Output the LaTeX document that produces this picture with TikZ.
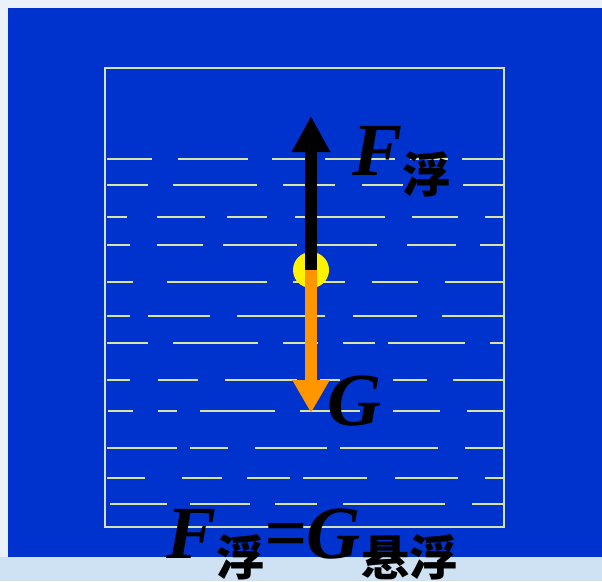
\documentclass[tikz,border=0pt]{standalone}
\usepackage{fontspec}
\newfontfamily\forcefont{Liberation Serif}
\newfontfamily\cjk{Noto Sans CJK SC}
\usetikzlibrary{arrows.meta}

\definecolor{pagebg}{RGB}{234,241,249}
\definecolor{stripbg}{RGB}{207,226,243}
\definecolor{waterblue}{RGB}{0,50,206}
\definecolor{tankline}{RGB}{210,225,180}
\definecolor{rippleline}{RGB}{215,228,165}
\definecolor{forceorange}{RGB}{255,150,0}

\newcommand{\subcn}[1]{\raisebox{-17pt}{\cjk\bfseries\fontsize{48}{48}\selectfont #1}}

\begin{document}
\begin{tikzpicture}[x=1pt, y=-1pt,
  tank/.style={draw=tankline, line width=1.8pt},
  ripple/.style={draw=rippleline, line width=2.1pt},
  ball/.style={circle, fill=yellow, minimum size=36pt, inner sep=0pt},
  upforce/.style={line width=12pt, draw=black, -{Triangle[length=36pt,width=36pt]}},
  downforce/.style={line width=12pt, draw=forceorange, -{Triangle[length=33pt,width=35pt]}},
  sym/.style={inner sep=0pt, anchor=base west,
    font=\forcefont\bfseries\itshape\fontsize{75}{75}\selectfont}
]
\useasboundingbox (0,0) rectangle (602,581);

% ================= Background =================
\fill[pagebg] (0,0) rectangle (602,581);
\fill[waterblue] (8,8) rectangle (602,557);
\fill[stripbg] (0,557) rectangle (602,581);

% ================= Tank and water =================
\draw[tank] (105,68) rectangle (504,527);
\foreach \y/\segs in {
  159/{107/152,178/248,272/308,325/395,410/448,462/503},
  185/{107/148,173/257,283/335,362/403,463/503},
  217/{107/127,157/205,227/267,295/385,412/458,485/503},
  245/{107/130,157/203,223/297,317/377,407/456,480/503},
  282/{107/133,167/267,293/345,372/418,445/503},
  316/{107/130,148/210,237/325,353/417,442/503},
  343/{107/148,173/258,283/318,343/375,388/465,490/503},
  380/{107/130,158/198,225/297,320/340,393/427,453/503},
  411/{108/133,158/177,200/275,300/360,393/440,467/503},
  448/{107/177,190/228,255/327,340/438,465/503},
  478/{107/145,182/222,247/290,303/367,395/458,485/503},
  504/{110/167,190/250,275/317,343/445,472/503}}
{
  \foreach \a/\b in \segs
    \draw[ripple] (\a,\y) -- (\b,\y);
}

% ================= Object and forces =================
\node[ball] (obj) at (311,270) {};
\coordinate (buoyTip) at (311,116);
\coordinate (weightTip) at (311,413);

\draw[upforce] (obj.center) -- (buoyTip);
\draw[downforce] (obj.center) -- (weightTip);

% ================= Labels =================
\node[sym] (Fbuoy) at (352,175) {F\subcn{浮}};
\node[sym] (Gweight) at (327,425) {G};
\node[sym] (balance) at (166,558) {F\subcn{浮}=G\subcn{悬浮}};

\end{tikzpicture}
\end{document}
